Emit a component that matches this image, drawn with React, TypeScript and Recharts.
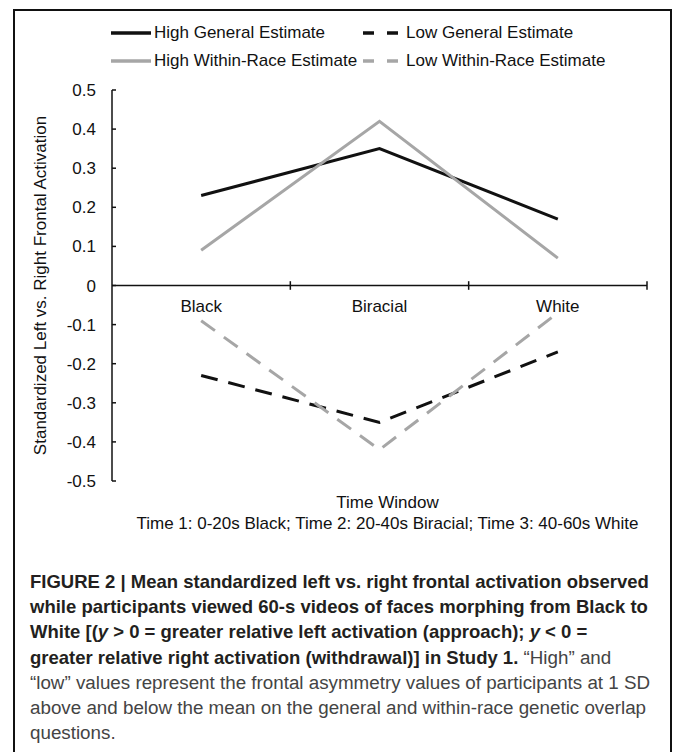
import React from "react";
import {
  LineChart,
  Line,
  XAxis,
  YAxis,
  ReferenceLine,
  ReferenceDot,
} from "recharts";

const CATEGORIES = ["Black", "Biracial", "White"];
const HIGH_GENERAL = [0.23, 0.35, 0.17];
const LOW_GENERAL = [-0.23, -0.35, -0.17];
const HIGH_WITHIN = [0.09, 0.42, 0.07];
const LOW_WITHIN = [-0.09, -0.42, -0.07];
const Y_TICKS = [-0.5, -0.4, -0.3, -0.2, -0.1, 0, 0.1, 0.2, 0.3, 0.4, 0.5];

const SERIES = [
  { key: "highGeneral", name: "High General Estimate", color: "#111", dash: undefined },
  { key: "lowGeneral", name: "Low General Estimate", color: "#111", dash: "17 11" },
  { key: "highWithin", name: "High Within-Race Estimate", color: "#a6a6a6", dash: undefined },
  { key: "lowWithin", name: "Low Within-Race Estimate", color: "#a6a6a6", dash: "17 11" },
];

const FONT = '"Liberation Sans", Arial, Helvetica, sans-serif';

// categories sit in the middle of each band, numeric axis from 0..n
const rows = CATEGORIES.map((name, i) => ({
  name,
  pos: i + 0.5,
  highGeneral: HIGH_GENERAL[i],
  lowGeneral: LOW_GENERAL[i],
  highWithin: HIGH_WITHIN[i],
  lowWithin: LOW_WITHIN[i],
}));

const boundaries = CATEGORIES.map((_, i) => i + 1);

function TimeLabel(props: any) {
  const { x, y, width } = props.viewBox;
  const cx = x + width / 2 + 8;
  return (
    <g fontFamily={FONT} fontSize={17} fill="#111">
      <text x={cx} y={y + 27} textAnchor="middle">
        Time Window
      </text>
      <text x={cx} y={y + 48} textAnchor="middle">
        Time 1: 0-20s Black; Time 2: 20-40s Biracial; Time 3: 40-60s White
      </text>
    </g>
  );
}

function LegendItem({ s, left, top }: { s: (typeof SERIES)[number]; left: number; top: number }) {
  return (
    <div
      style={{
        position: "absolute",
        left,
        top: top - 11,
        height: 22,
        display: "flex",
        alignItems: "center",
        whiteSpace: "nowrap",
        fontSize: 17,
        color: "#111",
      }}
    >
      <svg width={40} height={6} style={{ marginRight: 3 }}>
        <line
          x1={0}
          y1={3}
          x2={40}
          y2={3}
          stroke={s.color}
          strokeWidth={3.5}
          strokeDasharray={s.dash ? "11 13" : undefined}
        />
      </svg>
      {s.name}
    </div>
  );
}

export default function App() {
  return (
    <div
      style={{
        position: "absolute",
        left: 13,
        top: 9,
        width: 659,
        height: 760,
        border: "2px solid #111",
        boxSizing: "border-box",
        background: "#fff",
        fontFamily: FONT,
      }}
    >
      <div style={{ position: "relative", width: 655, height: 545 }}>
        <LegendItem s={SERIES[0]} left={96} top={22} />
        <LegendItem s={SERIES[1]} left={348} top={22} />
        <LegendItem s={SERIES[2]} left={96} top={50} />
        <LegendItem s={SERIES[3]} left={348} top={50} />
        <LineChart
          width={655}
          height={545}
          data={rows}
          margin={{ top: 79, right: 23, bottom: 0, left: 0 }}
        >
          <XAxis
            dataKey="pos"
            type="number"
            domain={[0, CATEGORIES.length]}
            ticks={[0, ...boundaries]}
            tick={false}
            tickLine={false}
            axisLine={false}
            height={75}
            label={{ content: TimeLabel }}
          />
          <YAxis
            type="number"
            domain={[-0.5, 0.5]}
            ticks={Y_TICKS}
            interval={0}
            width={97}
            stroke="#111"
            strokeWidth={1.5}
            tickSize={-4}
            tickMargin={20}
            tick={{ fontSize: 17, fill: "#111", fontFamily: FONT }}
            tickFormatter={(v: number) => (v === 0 ? "0" : v.toFixed(1))}
            label={{
              value: "Standardized Left vs. Right Frontal Activation",
              angle: -90,
              position: "insideLeft",
              offset: 25,
              style: { textAnchor: "middle", fontSize: 17, fill: "#111", fontFamily: FONT },
            }}
          />
          <ReferenceLine y={0} stroke="#111" strokeWidth={1.5} />
          {boundaries.map((b) => (
            <ReferenceLine
              key={b}
              segment={[
                { x: b, y: -0.011 },
                { x: b, y: 0.011 },
              ]}
              stroke="#111"
              strokeWidth={1.5}
            />
          ))}
          {rows.map((r) => (
            <ReferenceDot
              key={r.name}
              x={r.pos}
              y={0}
              r={0}
              fill="none"
              stroke="none"
              label={{
                value: r.name,
                position: "bottom",
                offset: 14,
                style: { fontSize: 17, fill: "#111", fontFamily: FONT },
              }}
            />
          ))}
          {SERIES.map((s) => (
            <Line
              key={s.key}
              type="linear"
              dataKey={s.key}
              name={s.name}
              stroke={s.color}
              strokeWidth={3}
              strokeDasharray={s.dash}
              dot={false}
              activeDot={false}
              isAnimationActive={false}
            />
          ))}
        </LineChart>
      </div>
      <div
        style={{
          position: "absolute",
          left: 15,
          top: 558,
          fontSize: 18.8,
          lineHeight: "25.2px",
          color: "#444",
          whiteSpace: "nowrap",
        }}
      >
        <b style={{ color: "#231f20", fontSize: 18.5 }}>
          FIGURE 2 | Mean standardized left vs. right frontal activation observed
          <br />
          while participants viewed 60-s videos of faces morphing from Black to
          <br />
          White [(<i>y</i> &gt; 0 = greater relative left activation (approach); <i>y</i> &lt; 0 =
          <br />
          greater relative right activation (withdrawal)] in Study 1.
        </b>{" "}
        “High” and
        <br />
        “low” values represent the frontal asymmetry values of participants at 1 SD
        <br />
        above and below the mean on the general and within-race genetic overlap
        <br />
        questions.
      </div>
    </div>
  );
}
